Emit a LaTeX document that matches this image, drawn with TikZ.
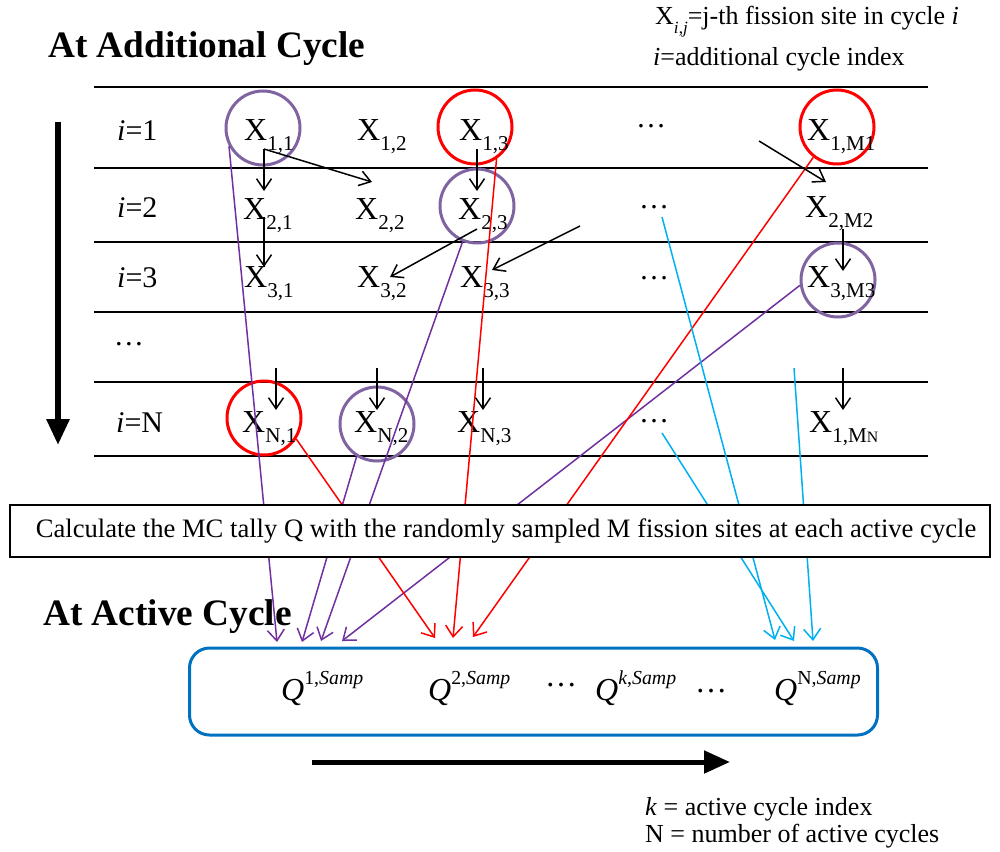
\documentclass[tikz,border=0pt]{standalone}
\usepackage{fontspec}
\setmainfont{Liberation Serif}
\usepackage{graphicx}
\usetikzlibrary{arrows.meta}
\definecolor{circpurple}{HTML}{8064A2}
\definecolor{linepurple}{HTML}{7030A0}
\definecolor{cyanline}{HTML}{00B0F0}
\definecolor{boxblue}{HTML}{0070C0}
\newcommand\lo[1]{\raisebox{-0.32em}{\scalebox{0.66}{#1}}}
\newcommand\hi[1]{\raisebox{0.5em}{\scalebox{0.62}{#1}}}
\begin{document}
\begin{tikzpicture}[x=1pt,y=-1pt,
  site/.style={anchor=base west, inner sep=0pt, font=\fontsize{32}{32}\selectfont},
  rowlab/.style={anchor=base west, inner sep=0pt, font=\fontsize{30}{30}\selectfont},
  dotsl/.style={anchor=base west, inner sep=0pt, font=\fontsize{30}{30}\selectfont},
  title/.style={anchor=base west, inner sep=0pt, font=\fontsize{37.3}{37.3}\selectfont\bfseries},
  legend/.style={anchor=base west, inner sep=0pt, font=\fontsize{26}{26}\selectfont},
  qlab/.style={anchor=base west, inner sep=0pt, font=\fontsize{32}{32}\selectfont},
  ring/.style={circle, minimum size=74pt, inner sep=0pt, line width=3pt},
  rule/.style={line width=2pt},
  flow/.style={line width=1.5pt, -{Straight Barb[length=11pt,width=15pt]}},
  pick/.style={line width=1.5pt, -{Straight Barb[length=11pt,width=17pt]}},
  bigarrow/.style={-{Triangle[length=26pt,width=22pt]}}
]
\useasboundingbox (0,0) rectangle (1000,851);

% row separators
\foreach \yy [count=\k] in {87,168,242,312,382,456}{
  \coordinate (rl\k) at (94,\yy);
  \coordinate (rr\k) at (928,\yy);
  \draw[rule] (rl\k) -- (rr\k);
}

% sampling circles
\node[ring, draw=circpurple] (c11) at (263,128) {};
\node[ring, draw=red]        (c13) at (475,127) {};
\node[ring, draw=circpurple] (c23) at (477,206) {};
\node[ring, draw=red]        (c1m) at (837,127) {};
\node[ring, draw=circpurple] (c3m) at (838,280) {};
\node[ring, draw=red]        (cn1) at (264,418) {};
\node[ring, draw=circpurple] (cn2) at (377,424) {};

% fission sites
\node[site] (x11) at (244,140) {X\lo{1,1}};
\node[site] (x12) at (357,140) {X\lo{1,2}};
\node[site] (x13) at (459,140) {X\lo{1,3}};
\node[site] (x1m) at (807,140) {X\lo{1,M1}};
\node[site] (x21) at (243,219) {X\lo{2,1}};
\node[site] (x22) at (355,219) {X\lo{2,2}};
\node[site] (x23) at (458,219) {X\lo{2,3}};
\node[site] (x2m) at (805,217) {X\lo{2,M2}};
\node[site] (x31) at (244,287) {X\lo{3,1}};
\node[site] (x32) at (357,287) {X\lo{3,2}};
\node[site] (x33) at (460,287) {X\lo{3,3}};
\node[site] (x3m) at (807,287) {X\lo{3,M3}};
\node[site] (xn1) at (242,432) {X\lo{N,1}};
\node[site] (xn2) at (354,432) {X\lo{N,2}};
\node[site] (xn3) at (457,432) {X\lo{N,3}};
\node[site] (xnm) at (809,432) {X\lo{1,M\scalebox{0.75}{N}}};

% row dots
\node[dotsl] (d1) at (636,127) {\dots};
\node[dotsl] (d2) at (639,208) {\dots};
\node[dotsl] (d3) at (639,279) {\dots};
\node[dotsl] (dn) at (639,422) {\dots};

% row labels
\node[rowlab] (i1) at (117,140) {\textit{i}=1};
\node[rowlab] (i2) at (117,217) {\textit{i}=2};
\node[rowlab] (i3) at (117,287) {\textit{i}=3};
\node[rowlab] (i4) at (116,345) {\textit{\dots}};
\node[rowlab] (iN) at (116,432) {\textit{i}=N};

% titles and legends
\node[title] (tadd) at (48,58) {At Additional Cycle};
\node[title] (tact) at (43,625) {At Active Cycle};
\node[legend] (leg1) at (655,25) {X\lo{\textit{i},\textit{j}}=j-th fission site in cycle \textit{i}};
\node[legend] (leg2) at (653,66) {\textit{i}=additional cycle index};
\node[legend] (leg3) at (645,815) {\textit{k} = active cycle index};
\node[legend] (leg4) at (645,842) {N = number of active cycles};

% arrow end points
\coordinate (tp1) at (277,642);
\coordinate (tp2) at (302,642);
\coordinate (tp3) at (321,641);
\coordinate (tp4) at (342,641);
\coordinate (tr1) at (435,638);
\coordinate (tr2) at (453,638);
\coordinate (tr3) at (473,637);
\coordinate (tc1) at (775,640);
\coordinate (tc2) at (794,641);
\coordinate (tc3) at (813,641);
\coordinate (sc1) at (662,217);
\coordinate (sc2) at (662,433);
\coordinate (sc3) at (794,368);

% sampled sites sent to the active cycles
\draw[pick, linepurple] (c11.208) -- (tp1);
\draw[pick, linepurple] (cn2.238) -- (tp2);
\draw[pick, linepurple] (c23.248) -- (tp3);
\draw[pick, linepurple] (c3m.188) -- (tp4);
\draw[pick, red] (cn1.327) -- (tr1);
\draw[pick, red] (c13.304) -- (tr2);
\draw[pick, red] (c1m.232) -- (tr3);
\draw[pick, cyanline] (sc1) -- (tc1);
\draw[pick, cyanline] (sc2) -- (tc2);
\draw[pick, cyanline] (sc3) -- (tc3);

% parent to daughter links between cycles
\coordinate (a1) at (264,149);  \coordinate (b1) at (264,191);
\coordinate (b2) at (372,182);
\coordinate (a3) at (264,217);  \coordinate (b3) at (264,267);
\coordinate (a4) at (477,149);  \coordinate (b4) at (477,191);
\coordinate (a5) at (477,229);  \coordinate (b5) at (390,277);
\coordinate (a6) at (580,226);  \coordinate (b6) at (492,270);
\coordinate (a7) at (759,141);  \coordinate (b7) at (826,182);
\coordinate (a8) at (843,229);  \coordinate (b8) at (843,271);
\coordinate (a9) at (276,368);  \coordinate (b9) at (276,410);
\coordinate (a10) at (377,368); \coordinate (b10) at (377,410);
\coordinate (a11) at (483,368); \coordinate (b11) at (483,410);
\coordinate (a12) at (843,368); \coordinate (b12) at (843,410);
\foreach \s/\t in {a1/b1,a1/b2,a3/b3,a4/b4,a5/b5,a6/b6,a7/b7,a8/b8,a9/b9,a10/b10,a11/b11,a12/b12}
  \draw[flow] (\s) -- (\t);

% tally step
\node[draw, line width=2pt, fill=white, minimum width=980pt, minimum height=52pt,
      inner sep=0pt, font=\fontsize{26.6}{26.6}\selectfont] (calc) at (500,531)
  {\hspace{12pt}Calculate the MC tally Q with the randomly sampled M fission sites at each active cycle};

% active cycle tallies
\node[draw=boxblue, line width=3pt, rounded corners=20pt, minimum width=688pt,
      minimum height=87pt, inner sep=0pt] (qbox) at (533.5,691.5) {};
\node[qlab] (q1) at (281,700) {\textit{Q}\hi{1,\textit{Samp}}};
\node[qlab] (q2) at (428,700) {\textit{Q}\hi{2,\textit{Samp}}};
\node[qlab] (qd1) at (545,686) {\dots};
\node[qlab] (qk) at (595,700) {\textit{Q}\hi{\textit{k},\textit{Samp}}};
\node[qlab] (qd2) at (695,692) {\dots};
\node[qlab] (qn) at (774,700) {\textit{Q}\hi{N,\textit{Samp}}};

% direction of cycles
\coordinate (v0) at (58,122); \coordinate (v1) at (58,445);
\draw[line width=6pt, bigarrow] (v0) -- (v1);
\coordinate (h0) at (312,762); \coordinate (h1) at (730,762);
\draw[line width=5pt, bigarrow] (h0) -- (h1);
\end{tikzpicture}
\end{document}
